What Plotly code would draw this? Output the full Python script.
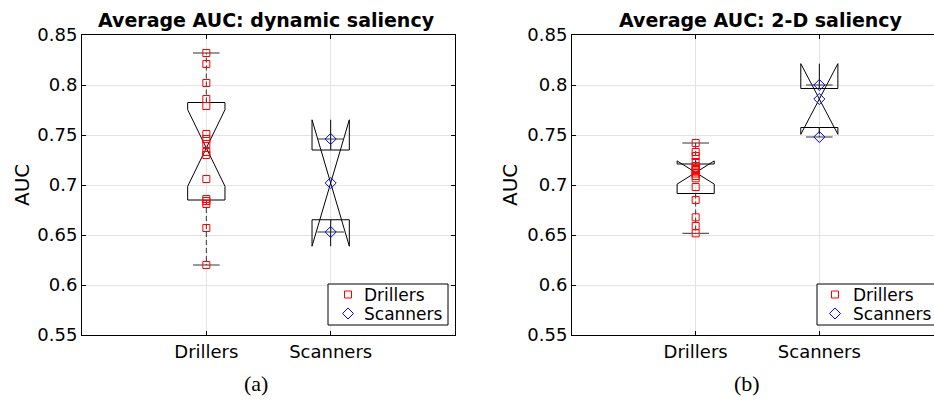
import numpy as np
import plotly.graph_objects as go

# Group labels and their positions on the category axis
groups = ["Drillers", "Scanners"]
group_pos = [1, 2]

# Per-subject average AUC, dynamic saliency model
dyn_drillers = [0.832, 0.821, 0.802, 0.786, 0.779, 0.751, 0.746, 0.741,
                0.733, 0.730, 0.706, 0.686, 0.684, 0.681, 0.657, 0.620]
dyn_scanners = [0.746, 0.702, 0.653]

# Per-subject average AUC, 2-D saliency model
flat_drillers = [0.742, 0.733, 0.729, 0.723, 0.719, 0.7167, 0.715, 0.7135,
                 0.7115, 0.709, 0.7067, 0.698, 0.685, 0.6677, 0.659, 0.6517]
flat_scanners = [0.800, 0.786, 0.748]

y_tick_vals = [0.55, 0.6, 0.65, 0.7, 0.75, 0.8, 0.85]
y_tick_text = ["0.55", "0.6", "0.65", "0.7", "0.75", "0.8", "0.85"]

W, H = 934, 400
FONT = "DejaVu Sans"
GRID = "#e3e3e3"

# group styles: marker symbol, colour, size
styles = {
    "Drillers": ("square-open", "red", 7),
    "Scanners": ("diamond-open", "blue", 8.5),
}


def px(x):
    return x / W


def py(y):
    return 1 - y / H


def box_stats(values):
    """Quartiles (midpoint percentile rule), whisker ends and notch half-span."""
    v = np.sort(np.asarray(values, dtype=float))
    n = v.size
    pct = 100.0 * (np.arange(1, n + 1) - 0.5) / n
    q1, med, q3 = np.interp([25, 50, 75], pct, v)
    iqr = q3 - q1
    lo = v[v >= q1 - 1.5 * iqr].min()
    hi = v[v <= q3 + 1.5 * iqr].max()
    notch = 1.57 * iqr / np.sqrt(n)
    return q1, med, q3, lo, hi, notch


fig = go.Figure()


def add_group(values, pos, xa, ya, name):
    symbol, color, size = styles[name]
    q1, med, q3, lo, hi, notch = box_stats(values)
    fig.add_trace(go.Box(
        x=[pos], q1=[q1], median=[med], q3=[q3],
        lowerfence=[q1], upperfence=[q3], notchspan=[notch],
        notched=True, notchwidth=0.5, width=0.3, whiskerwidth=0,
        line=dict(color="black", width=1), fillcolor="rgba(0,0,0,0)",
        boxpoints=False, showlegend=False, hoverinfo="skip",
        xaxis=xa, yaxis=ya))
    # dashed whiskers
    fig.add_trace(go.Scatter(
        x=[pos, pos, None, pos, pos], y=[q3, hi, None, q1, lo],
        mode="lines", line=dict(color="#333", width=1, dash="5px,3px"),
        showlegend=False, hoverinfo="skip", xaxis=xa, yaxis=ya))
    # whisker caps
    fig.add_trace(go.Scatter(
        x=[pos, pos], y=[lo, hi], mode="markers",
        marker=dict(symbol="line-ew", size=19,
                    line=dict(color="#333", width=1)),
        showlegend=False, hoverinfo="skip", xaxis=xa, yaxis=ya))
    # individual subjects
    fig.add_trace(go.Scatter(
        x=[pos] * len(values), y=values, mode="markers", name=name,
        marker=dict(symbol=symbol, size=size, color=color,
                    line=dict(color=color, width=1)),
        showlegend=False, xaxis=xa, yaxis=ya))


add_group(dyn_drillers, group_pos[0], "x", "y", groups[0])
add_group(dyn_scanners, group_pos[1], "x", "y", groups[1])
add_group(flat_drillers, group_pos[0], "x2", "y2", groups[0])
add_group(flat_scanners, group_pos[1], "x2", "y2", groups[1])

# Legend boxes, drawn on a pixel-space overlay: (box left, box right, key x, text x)
legend_boxes = [(328, 448, 348, 362), (817, 948, 835, 851)]
legend_top, legend_bottom = 284, 325
legend_rows = [294.5, 313.5]

for left, right, key_x, text_x in legend_boxes:
    fig.add_trace(go.Scatter(
        x=[left, right, right, left, left],
        y=[legend_top, legend_top, legend_bottom, legend_bottom, legend_top],
        mode="lines", fill="toself", fillcolor="white",
        line=dict(color="black", width=1), showlegend=False, hoverinfo="skip",
        xaxis="x3", yaxis="y3"))
    for name, row in zip(groups, legend_rows):
        symbol, color, size = styles[name]
        fig.add_trace(go.Scatter(
            x=[key_x], y=[row], mode="markers", showlegend=False, hoverinfo="skip",
            marker=dict(symbol=symbol, size=size, color=color,
                        line=dict(color=color, width=1)),
            xaxis="x3", yaxis="y3"))
        fig.add_annotation(text=name, x=px(text_x), y=py(row), xref="paper", yref="paper",
                           showarrow=False, xanchor="left", yanchor="middle",
                           font=dict(family=FONT, size=17, color="black"))

tick_font = dict(family=FONT, size=18, color="black")
common_x = dict(tickvals=group_pos, ticktext=groups, showgrid=True, gridcolor=GRID,
                showline=True, linecolor="black", linewidth=1, ticks="inside",
                ticklen=4, tickcolor="black", tickfont=tick_font, zeroline=False)
common_y = dict(range=[0.55, 0.85], tickvals=y_tick_vals, ticktext=y_tick_text,
                showgrid=True, gridcolor=GRID, showline=True, linecolor="black",
                linewidth=1, ticks="inside", ticklen=4, tickcolor="black",
                tickfont=tick_font, zeroline=False, domain=[py(335), py(35)])

fig.update_layout(
    width=W, height=H, margin=dict(l=0, r=0, t=0, b=0, autoexpand=False),
    paper_bgcolor="white", plot_bgcolor="rgba(0,0,0,0)", showlegend=False,
    xaxis=dict(common_x, domain=[px(82), px(455)], range=[0, 3], mirror="ticks", anchor="y"),
    yaxis=dict(common_y, mirror="ticks", anchor="x"),
    xaxis2=dict(common_x, domain=[px(572), 1.0], range=[0, 362 / 123.67],
                mirror="ticks", anchor="y2"),
    yaxis2=dict(common_y, mirror=False, anchor="x2"),
    xaxis3=dict(domain=[0, 1], range=[0, W], visible=False, fixedrange=True, anchor="y3"),
    yaxis3=dict(domain=[0, 1], range=[H, 0], visible=False, fixedrange=True, anchor="x3"),
)

annotations = [
    dict(text="<b>Average AUC: dynamic saliency</b>", x=px(266), y=py(20),
         font=dict(family=FONT, size=19, color="black")),
    dict(text="<b>Average AUC: 2-D saliency</b>", x=px(761), y=py(20),
         font=dict(family=FONT, size=19, color="black")),
    dict(text="AUC", x=px(22), y=py(185), textangle=-90,
         font=dict(family=FONT, size=20, color="black")),
    dict(text="AUC", x=px(510), y=py(185), textangle=-90,
         font=dict(family=FONT, size=20, color="black")),
    dict(text="(a)", x=px(256), y=py(383),
         font=dict(family="Liberation Serif", size=22, color="black")),
    dict(text="(b)", x=px(747), y=py(383),
         font=dict(family="Liberation Serif", size=22, color="black")),
]
for a in annotations:
    fig.add_annotation(a, xref="paper", yref="paper", showarrow=False,
                       xanchor="center", yanchor="middle")

fig.write_html("out.html")
